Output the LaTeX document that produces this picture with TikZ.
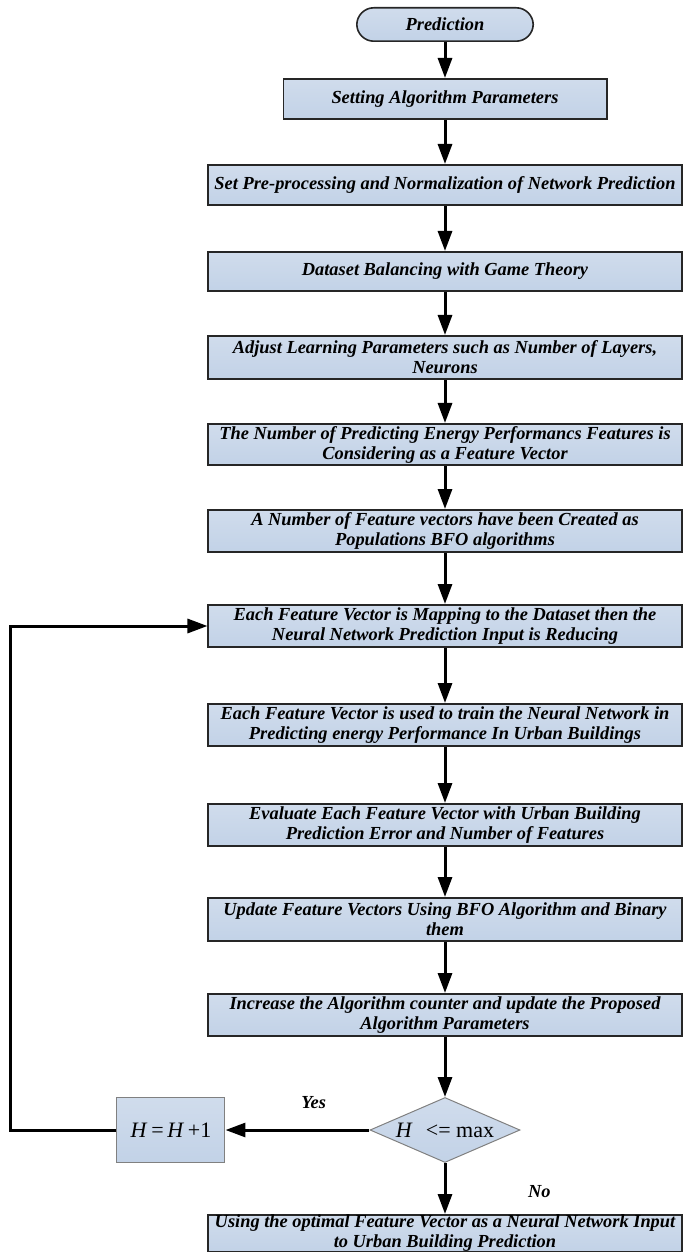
\documentclass[tikz,border=0pt]{standalone}
\usepackage{fontspec}
\setmainfont{Liberation Serif}
\usepackage{xcolor}
\usepackage{tikz}
\usetikzlibrary{arrows.meta, positioning, shapes.geometric}
\definecolor{BoxTop}{RGB}{208,220,236}
\definecolor{BoxMid}{RGB}{224,233,244}
\definecolor{BoxBot}{RGB}{194,210,231}

\begin{document}
\begin{tikzpicture}[
    font=\fontsize{9.2}{10}\selectfont\bfseries\itshape,
    stepbox/.style={rectangle, draw=black!85, line width=0.8pt, top color=BoxTop, middle color=BoxMid, bottom color=BoxBot, minimum width=236.7pt, minimum height=20.2pt, inner xsep=1pt, inner ysep=0.6pt, align=center},
    twobox/.style={stepbox, minimum height=21.2pt},
    startbox/.style={rectangle, rounded corners=8.5pt, draw=black!85, line width=0.8pt, top color=BoxTop, middle color=BoxMid, bottom color=BoxBot, minimum width=88.2pt, minimum height=16.7pt, inner sep=0pt},
    decision/.style={diamond, aspect=2.3, draw=gray, line width=0.5pt, top color=BoxTop, middle color=BoxMid, bottom color=BoxBot, minimum width=75pt, minimum height=32.5pt, inner sep=0pt, font=\fontsize{11}{12}\selectfont},
    counter/.style={rectangle, draw=gray, line width=0.5pt, top color=BoxTop, middle color=BoxMid, bottom color=BoxBot, minimum width=54pt, minimum height=32.5pt, font=\fontsize{11}{12}\selectfont},
    arrow/.style={-{Triangle[width=7pt,length=10pt]}, line width=1.5pt}
]
\useasboundingbox (-222.5pt,12.25pt) rectangle (125pt,-615.75pt);

\node[startbox] (start) at (0,0) {Prediction};
\node[stepbox, minimum width=161.7pt, below=18pt of start] (param) {Setting Algorithm Parameters};
\node[stepbox, below=22pt of param] (prep) {Set Pre-processing and Normalization of Network Prediction};
\node[stepbox, minimum height=19.7pt, below=22.5pt of prep] (balance) {Dataset Balancing with Game Theory};
\node[twobox, minimum height=21.7pt, below=21.5pt of balance] (learn) {Adjust Learning Parameters such as Number of Layers,\\Neurons};
\node[twobox, minimum height=20.7pt, below=21.5pt of learn] (featvec) {The Number of Predicting Energy Performancs Features is\\Considering as a Feature Vector};
\node[twobox, below=21.5pt of featvec] (popul) {A Number of Feature vectors have been Created as\\Populations BFO algorithms};
\node[twobox, below=25.5pt of popul] (mapping) {Each Feature Vector is Mapping to the Dataset then the\\Neural Network Prediction Input is Reducing};
\node[twobox, below=27.5pt of mapping] (train) {Each Feature Vector is used to train the Neural Network in\\Predicting energy Performance In Urban Buildings};
\node[twobox, below=28pt of train] (evaluate) {Evaluate Each Feature Vector with Urban Building\\Prediction Error and Number of Features};
\node[twobox, minimum height=21.7pt, below=25pt of evaluate] (update) {Update Feature Vectors Using BFO Algorithm and Binary\\them};
\node[twobox, below=25.5pt of update] (increase) {Increase the Algorithm counter and update the Proposed\\Algorithm Parameters};
\node[decision, below=30pt of increase] (check) {\textit{H}\hspace{0.6em}\upshape{<= max}};
\node[counter, left=72pt of check] (inc) {\textit{H}\,=\,\textit{H}\,+1};
\node[stepbox, minimum height=18.2pt, inner ysep=0pt, below=25.5pt of check] (output) {Using the optimal Feature Vector as a Neural Network Input\\to Urban Building Prediction};

\node[above left=7pt and 56pt of check.center] (yes) {Yes};
\node[below right=24pt and 38pt of check.center] (no) {No};

\draw[arrow] (start) -- (param);
\draw[arrow] (param) -- (prep);
\draw[arrow] (prep) -- (balance);
\draw[arrow] (balance) -- (learn);
\draw[arrow] (learn) -- (featvec);
\draw[arrow] (featvec) -- (popul);
\draw[arrow] (popul) -- (mapping);
\draw[arrow] (mapping) -- (train);
\draw[arrow] (train) -- (evaluate);
\draw[arrow] (evaluate) -- (update);
\draw[arrow] (update) -- (increase);
\draw[arrow] (increase) -- (check);
\draw[arrow] (check) -- (inc);
\draw[arrow] (check) -- (output);
\draw[arrow] (inc.west) -- ++(-53pt,0) |- (mapping.west);
\end{tikzpicture}
\end{document}
